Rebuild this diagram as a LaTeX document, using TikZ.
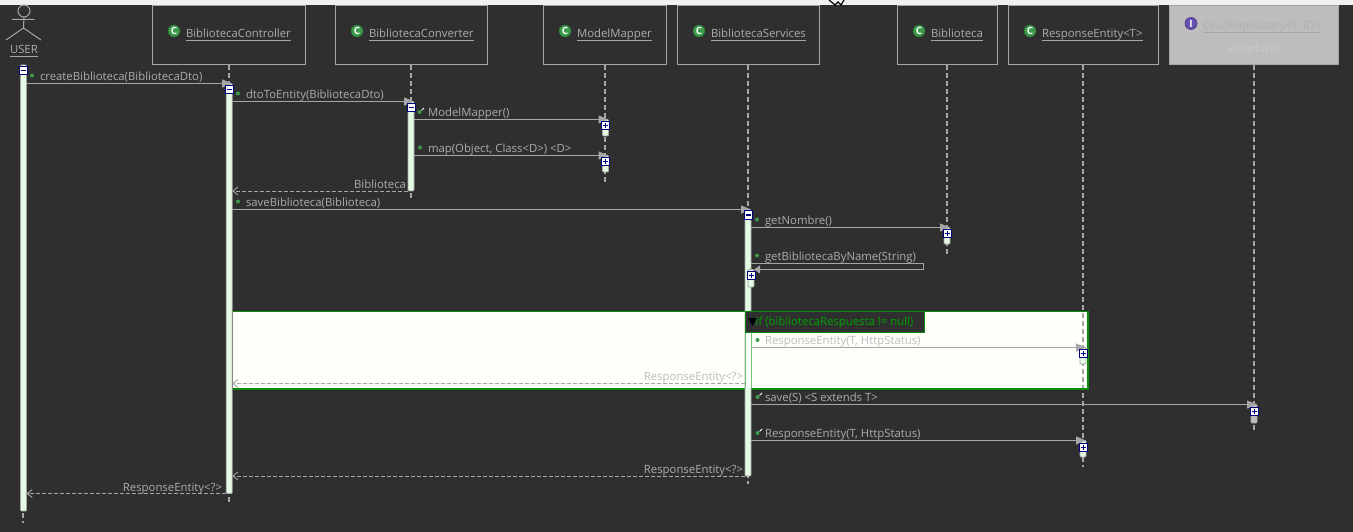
\documentclass[tikz,border=0pt]{standalone}
\usepackage{fontspec}
\setmainfont{Open Sans}
\newfontfamily\tagfont[FakeBold=0.5]{Open Sans}
\usetikzlibrary{arrows.meta}
\definecolor{bgd}{HTML}{2F2F2F}
\definecolor{strip}{HTML}{F0F0F0}
\definecolor{lin}{HTML}{A6A6A6}
\definecolor{txt}{HTML}{A9ADB2}
\definecolor{pale}{HTML}{BDBDBD}
\definecolor{paletxt}{HTML}{B0B0B0}
\definecolor{palesub}{HTML}{CDCDCD}
\definecolor{palerule}{HTML}{A8A8A8}
\definecolor{barf}{HTML}{E4FAE4}
\definecolor{frm}{HTML}{FDFFFB}
\definecolor{grn}{HTML}{0B8A0B}
\definecolor{navy}{HTML}{00007F}
\definecolor{icg}{HTML}{3C9A4A}
\definecolor{icp}{HTML}{6650B0}
\newcommand{\tfont}{\fontsize{11.35}{13}\selectfont}
\tikzset{
  every node/.style={font=\tfont, inner sep=0pt, outer sep=0pt},
  lifebox/.style={draw=lin, line width=1pt, fill=bgd, anchor=north west},
  lifeline/.style={draw=lin, line width=1.6pt, dash pattern=on 5pt off 3pt},
  msg/.style={draw=lin, line width=1pt, -{Triangle[length=10pt,width=8pt,fill=lin]}},
  selfmsg/.style={draw=lin, line width=1pt, -{Triangle[length=6pt,width=8pt,fill=lin]}},
  ret/.style={draw=lin, line width=0.9pt, dash pattern=on 4pt off 2pt, -{Straight Barb[length=5pt,width=8pt]}},
  actbar/.style={draw=lin, line width=0.8pt, fill=barf, rounded corners=1pt, minimum width=6pt, anchor=north},
  minusbtn/.style={draw=navy, line width=1pt, fill=white, minimum size=8pt,
    path picture={\draw[navy,line width=1pt] ([xshift=-2.5pt]path picture bounding box.center) -- ([xshift=2.5pt]path picture bounding box.center);}},
  plusbtn/.style={minusbtn,
    path picture={\draw[navy,line width=1pt] ([xshift=-2.5pt]path picture bounding box.center) -- ([xshift=2.5pt]path picture bounding box.center)
      ([yshift=-2.5pt]path picture bounding box.center) -- ([yshift=2.5pt]path picture bounding box.center);}},
  classtxt/.style={anchor=base west, text=txt},
  msgtxt/.style={anchor=base west, text=txt},
  rettxt/.style={anchor=base east, text=txt},
  dot/.style={circle, fill=icg, minimum size=4pt},
  key/.style={draw=white, line width=0.8pt},
  iconc/.style={circle, fill=icg, draw=icg!70!black, line width=0.6pt, minimum size=12pt},
}
% class head: name, left x, right x, lifeline x, icon x, text x, label, lifeline end y
\newcommand{\classhead}[8]{%
  \node[lifebox, minimum width=#3pt-#2pt, minimum height=59pt] (h#1) at (#2,5.5) {};
  \coordinate (e#1) at (#4,#8);
  \draw[lifeline] (#4,65) -- (e#1);
  \node[iconc] (i#1) at (#5,31) {};
  \node[text=white,font=\fontsize{10}{10}\selectfont\bfseries] (c#1) at (i#1) {C};
  \node[classtxt] (t#1) at (#6,37.5) {#7};
  \draw[lin,line width=1.4pt] ([yshift=-2.8pt]t#1.base west) -- ([yshift=-2.8pt]t#1.base east);
}
\newcommand{\actbarnode}[5][barf]{\node[actbar, fill=#1, minimum height=#5pt-#4pt] (#2) at (#3,#4) {};}
\newcommand{\smalldot}[2]{\node[dot] (#1) at #2 {};}
\newcommand{\keydot}[2]{\node[dot] (#1) at #2 {}; \draw[key] ([shift={(2pt,1.5pt)}]#1.center) -- ++(2.5pt,2.5pt);}
\begin{document}
\begin{tikzpicture}[x=1pt,y=-1pt]
\useasboundingbox (0,0) rectangle (1353,532);
\fill[bgd] (0,0) rectangle (1353,532);
\fill[strip] (0,0) rectangle (1353,5);
% pointer fragment
\draw[black,line width=1.2pt] (829,0) -- (835,5) -- (838,2) -- (841,5) -- (844,0);

% actor
\node[circle, draw=lin, line width=1pt, minimum size=12pt] (uhead) at (24,11) {};
\coordinate (uhip) at (23.5,28);
\coordinate (ularm) at (12,19.5);
\coordinate (urarm) at (34.5,19.5);
\coordinate (ullegs) at (6,40);
\coordinate (urlegs) at (41,40);
\draw[lin,line width=1pt] (uhead.south) -- (uhip) (ularm) -- (urarm) (ullegs) -- (uhip) -- (urlegs);
\node[classtxt] (tU) at (10,54) {USER};
\draw[lin,line width=1.4pt] ([yshift=-2.8pt]tU.base west) -- ([yshift=-2.8pt]tU.base east);
\coordinate (eU) at (23,523);
\draw[lifeline] (23,65) -- (eU);

\classhead{C}{152.5}{305.5}{229}{174}{186}{BibliotecaController}{503}
\classhead{V}{335.5}{487.5}{411}{357}{369}{BibliotecaConverter}{198}
\classhead{M}{543.5}{666.5}{605}{565}{577}{ModelMapper}{182}
\classhead{S}{677.5}{819.5}{748}{699}{711}{BibliotecaServices}{484}
\classhead{B}{897.5}{997.5}{947}{919}{931}{Biblioteca}{254}
\node[lifebox, minimum width=150pt, minimum height=59pt] (hR) at (1008.5,5.5) {};
\node[iconc] (iR) at (1030,31) {};
\node[text=white,font=\fontsize{10}{10}\selectfont\bfseries] (cR) at (iR) {C};
\node[classtxt] (tR) at (1042,37.5) {ResponseEntity<T>};
\draw[lin,line width=1.4pt] ([yshift=-2.8pt]tR.base west) -- ([yshift=-2.8pt]tR.base east);
\node[lifebox, fill=pale, minimum width=169pt, minimum height=59pt] (hD) at (1169.5,5.5) {};
\node[iconc, fill=icp, draw=icp!70!black] (iD) at (1191,23.5) {};
\node[text=white,font=\fontsize{10}{10}\selectfont\bfseries] (cD) at (iD) {I};
\node[classtxt, text=paletxt] (tD) at (1203,29.5) {CrudRepository<T, ID>};
\draw[palerule,line width=1.4pt] ([yshift=-2.8pt]tD.base west) -- ([yshift=-2.8pt]tD.base east);
\node[text=palesub, font=\fontsize{10.5}{12}\selectfont] (sD) at (1254,49) {«interface»};
\coordinate (eD) at (1254,431);
\draw[lifeline] (1254,65) -- (eD);

% highlighted block
\fill[frm] (233,311) rectangle (1088,388.5);
\coordinate (eR) at (1083,467);
\draw[lifeline] (1083,65) -- (eR);
\draw[grn,line width=1pt] (233,311.5) -- (1088,311.5);
\draw[grn,line width=2pt] (233,388.5) -- (1088,388.5) (1088,311) -- (1088,389.5);

% activations
\actbarnode{aU}{23.5}{65}{511}
\actbarnode{aC}{229.2}{83.5}{493.5}
\actbarnode{aV}{411}{101.5}{191}
\actbarnode{aMa}{605.5}{119.5}{136}
\actbarnode{aMb}{605.5}{155.5}{172}
\actbarnode{aS}{748}{209.5}{476}
\actbarnode{aB}{947}{227.5}{244}
\actbarnode{aSs}{751}{269.5}{287}
\actbarnode{aRa}{1083}{347.5}{364}
\actbarnode[pale]{aD}{1254}{404.5}{423}
\actbarnode{aRb}{1083}{440.5}{457}
\fill[frm] (745,333) rectangle (751,388);
\draw[lin!70!green,line width=0.8pt] (745,333) -- (745,388) (751,333) -- (751,388);

% messages
\draw[msg] (aU.east |- aC.north) -- (aC.north east);
\draw[msg] (aC.east |- aV.north) -- (aV.north east);
\draw[msg] (aV.east |- aMa.north) -- (aMa.north east);
\draw[msg] (aV.east |- aMb.north) -- (aMb.north east);
\draw[ret] (aV.south west) -- (aC.east |- aV.south);
\draw[msg] (aC.east |- aS.north) -- (aS.north east);
\draw[msg] (aS.east |- aB.north) -- (aB.north east);
\coordinate (selfa) at (923.5,263.5);
\coordinate (selfb) at (923.5,269.5);
\draw[lin,line width=1pt] (aS.east |- selfa) -- (selfa) -- (selfb);
\draw[selfmsg] (selfb) -- (aSs.north east);
\draw[msg] (aS.east |- aRa.north) -- (aRa.north east);
\draw[ret] (aS.west |- 0,383.5) -- (aC.east |- 0,383.5);
\draw[msg] (aS.east |- aD.north) -- (aD.north east);
\draw[msg] (aS.east |- aRb.north) -- (aRb.north east);
\draw[ret] (aS.south west) -- (aC.east |- aS.south);
\draw[ret] (aC.south west) -- (aU.east |- aC.south);

% fold buttons
\node[minusbtn] (fU) at (23.5,71) {};
\node[minusbtn] (fC) at (229.5,89.5) {};
\node[minusbtn] (fV) at (411,107.5) {};
\node[minusbtn] (fS) at (748,215) {};
\node[plusbtn] (pMa) at (605.5,125.5) {};
\node[plusbtn] (pMb) at (605.5,161.5) {};
\node[plusbtn] (pB) at (947,233.5) {};
\node[plusbtn] (pSs) at (751,275.5) {};
\node[plusbtn] (pRa) at (1083,353.5) {};
\node[plusbtn] (pD) at (1254,411) {};
\node[plusbtn] (pRb) at (1083,447) {};

% message labels
\smalldot{d1}{(32,75.5)}
\node[msgtxt] (m1) at (40,80.5) {createBiblioteca(BibliotecaDto)};
\smalldot{d2}{(238,93.5)}
\node[msgtxt] (m2) at (246,98.5) {dtoToEntity(BibliotecaDto)};
\keydot{d3}{(419.5,112)}
\node[msgtxt] (m3) at (428,116.5) {ModelMapper()};
\smalldot{d4}{(420,147.5)}
\node[msgtxt] (m4) at (428,152.5) {map(Object, Class<D>) <D>};
\node[rettxt] (r1) at (406,188.5) {Biblioteca};
\smalldot{d5}{(238,201.5)}
\node[msgtxt] (m5) at (246,206.5) {saveBiblioteca(Biblioteca)};
\smalldot{d6}{(757,219.5)}
\node[msgtxt] (m6) at (765,224.5) {getNombre()};
\smalldot{d7}{(757,255.5)}
\node[msgtxt] (m7) at (765,260.5) {getBibliotecaByName(String)};
\keydot{d8}{(757.5,340)}
\node[msgtxt, text=pale] (m8) at (765,344.5) {ResponseEntity(T, HttpStatus)};
\node[rettxt, text=pale] (r2) at (743,380.5) {ResponseEntity<?>};
\keydot{d9}{(757.5,397)}
\node[msgtxt] (m9) at (765,401.5) {save(S) <S extends T>};
\keydot{d10}{(757.5,433)}
\node[msgtxt] (m10) at (765,437.5) {ResponseEntity(T, HttpStatus)};
\node[rettxt] (r3) at (743,473.5) {ResponseEntity<?>};
\node[rettxt] (r4) at (222,491.5) {ResponseEntity<?>};

% condition tag
\node[draw=grn, line width=1pt, fill=bgd, minimum width=178.5pt, minimum height=21pt, anchor=north west] (tag) at (745.5,311.5) {};
\fill[black] (748,318) -- (757,318) -- (752.5,326) -- cycle;
\node[anchor=base west, text=grn, font=\tagfont\tfont] (tagt) at (755.5,325) {if (bibliotecaRespuesta != null)};
\end{tikzpicture}
\end{document}
